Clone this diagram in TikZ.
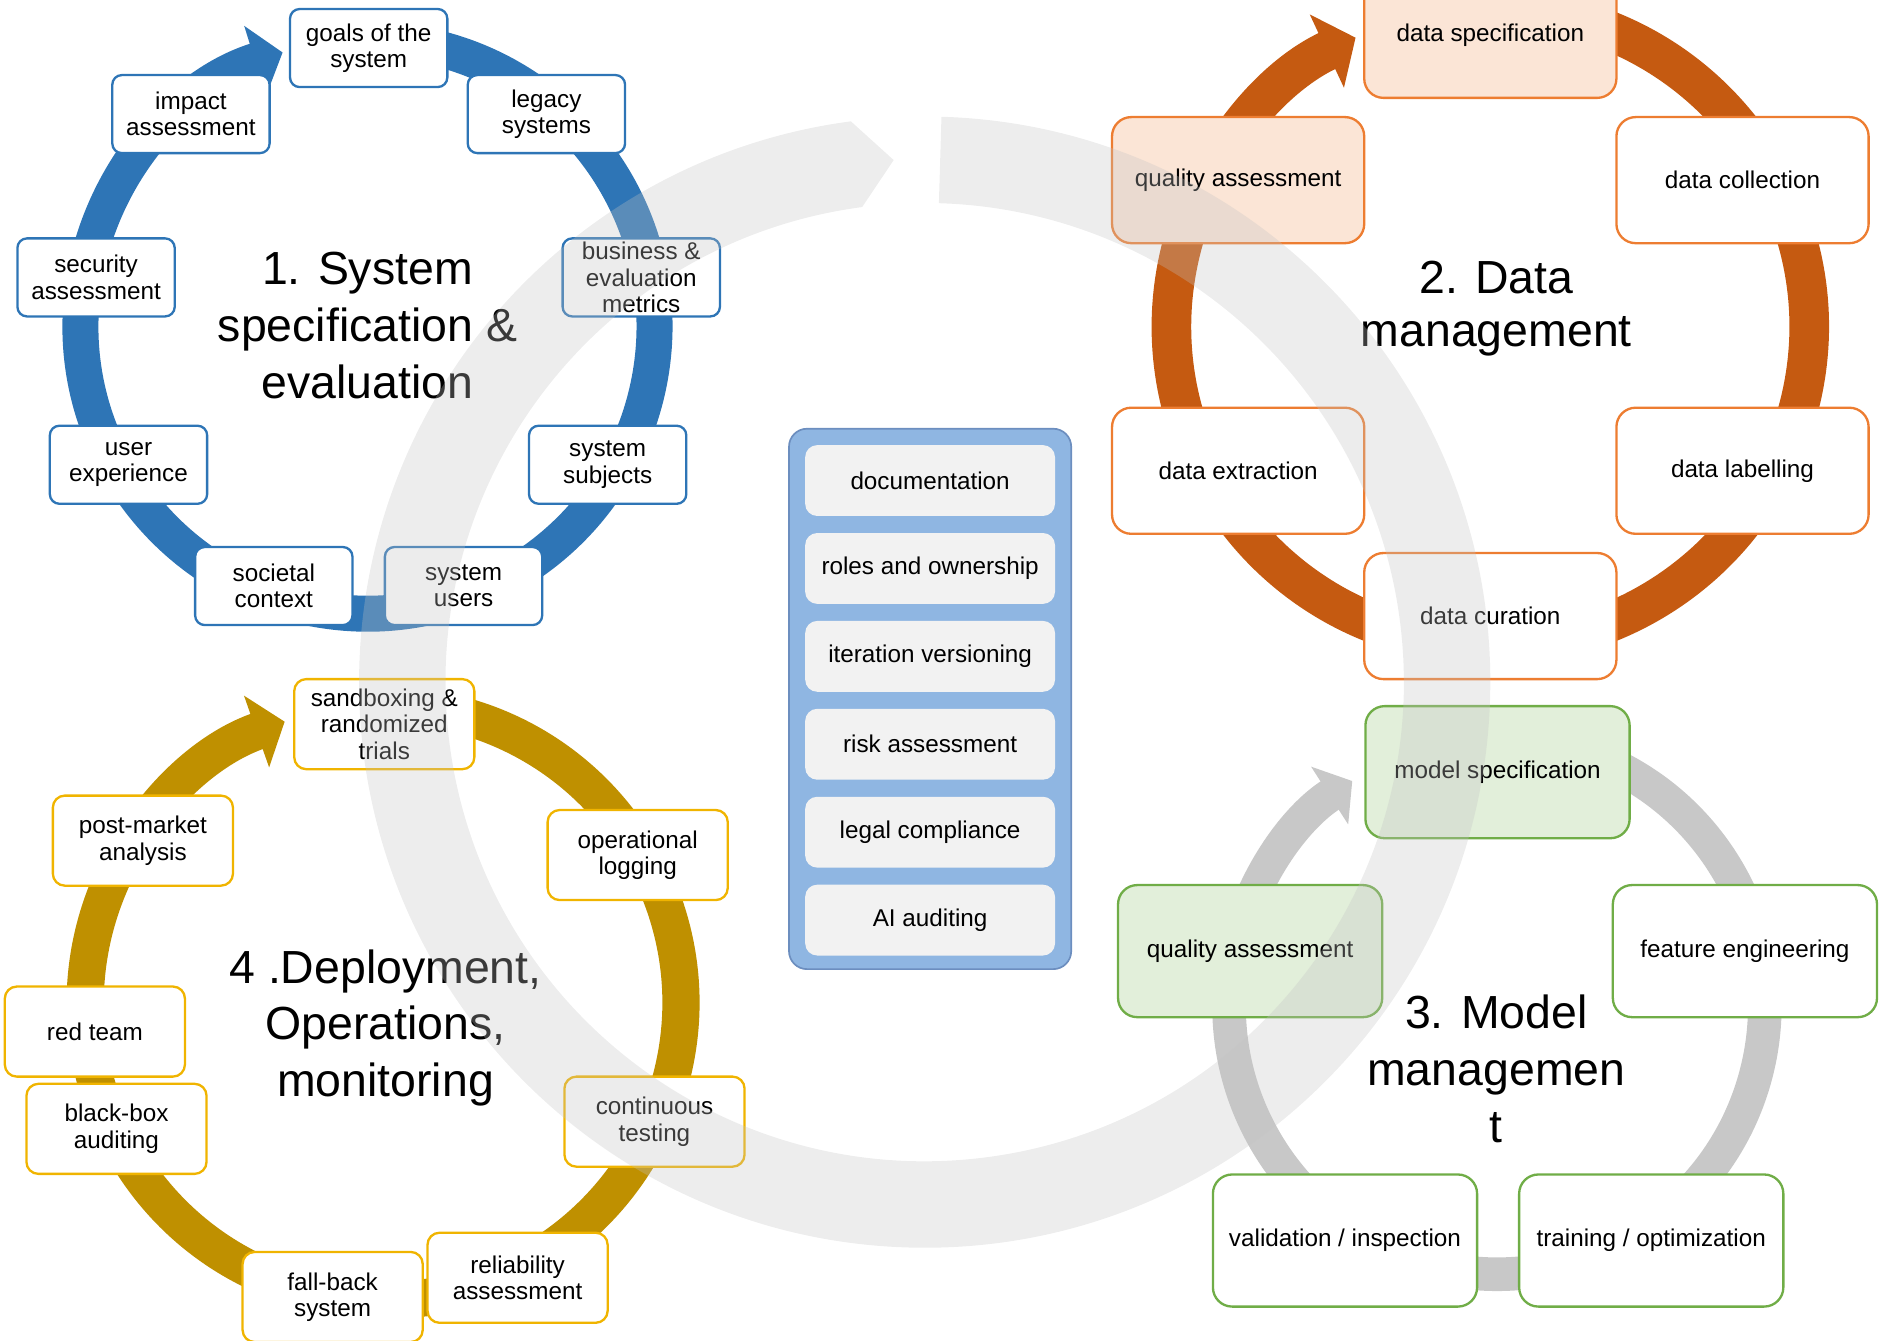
\documentclass[tikz,border=0pt]{standalone}
\usepackage{fontspec}
\setmainfont{Liberation Sans}
\usetikzlibrary{arrows.meta,positioning}
\definecolor{ringblue}{RGB}{46,117,182}
\definecolor{ringorange}{RGB}{197,90,17}
\definecolor{ringgray}{RGB}{200,200,200}
\definecolor{ringgold}{RGB}{191,144,0}
\definecolor{edgeorange}{RGB}{237,125,49}
\definecolor{edgegreen}{RGB}{112,173,71}
\definecolor{edgegold}{RGB}{240,180,0}
\definecolor{fillpeach}{RGB}{251,229,214}
\definecolor{fillgreen}{RGB}{226,239,218}
\definecolor{panelblue}{RGB}{143,182,226}
\definecolor{paneledge}{RGB}{108,142,191}
\definecolor{itemgray}{RGB}{242,242,242}
\definecolor{bandgray}{RGB}{195,195,195}

\begin{document}
\begin{tikzpicture}[
  ring/.style 2 args={line width=#1, draw=#2, -{Triangle[width=0pt 2, length=0pt 0.8]}},
  box/.style={draw, fill=white, line width=1.1pt, align=center, inner sep=0pt,
    font=\fontsize{11.5}{12.5}\selectfont},
  bluebox/.style={box, draw=ringblue, rounded corners=0.16cm, minimum width=2.62cm, minimum height=1.3cm},
  orangebox/.style={box, draw=edgeorange, rounded corners=0.32cm, minimum width=4.2cm, minimum height=2.1cm},
  greenbox/.style={box, draw=edgegreen, rounded corners=0.32cm, minimum width=4.4cm, minimum height=2.2cm},
  goldbox/.style={box, draw=edgegold, rounded corners=0.2cm, minimum width=3cm, minimum height=1.5cm},
  panel/.style={fill=panelblue, draw=paneledge, line width=0.8pt, rounded corners=0.3cm,
    minimum width=4.7cm, minimum height=9cm},
  item/.style={fill=itemgray, rounded corners=0.2cm, minimum width=4.16cm, minimum height=1.18cm,
    inner sep=0pt, font=\fontsize{11.5}{12.5}\selectfont},
  title/.style={align=center, font=\fontsize{22}{27}\selectfont},
  band/.style={fill=bandgray, fill opacity=0.3}
]
\useasboundingbox (0,0) rectangle (31.36,-22.333);

% centres of the four cycles and of the big arrow
\coordinate (c1) at (6.12,-5.44);
\coordinate (c2) at (24.82,-5.44);
\coordinate (c3) at (24.93,-16.76);
\coordinate (c4) at (6.38,-16.70);
\coordinate (cbig) at (15.40,-11.36);

% rings
\draw[ring={0.6cm}{ringblue}] ([shift={(80:4.78)}]c1) arc[start angle=80, end angle=-252.8, radius=4.78];
\draw[ring={0.66cm}{ringorange}] ([shift={(75:5.31)}]c2) arc[start angle=75, end angle=-245, radius=5.31];
\draw[ring={0.56cm}{ringgray}] ([shift={(75:4.46)}]c3) arc[start angle=75, end angle=-237.3, radius=4.46];
\draw[ring={0.62cm}{ringgold}] ([shift={(75:4.96)}]c4) arc[start angle=75, end angle=-250.7, radius=4.96];

% 1. system specification
\node[bluebox] (goals) at (6.14,-0.80) {goals of the\\system};
\node[bluebox] (legacy) at (9.10,-1.90) {legacy\\systems};
\node[bluebox] (business) at (10.68,-4.62) {business \&\\evaluation\\metrics};
\node[bluebox] (subjects) at (10.12,-7.74) {system\\subjects};
\node[bluebox] (users) at (7.72,-9.76) {system\\users};
\node[bluebox] (societal) at (4.56,-9.76) {societal\\context};
\node[bluebox] (userexp) at (2.14,-7.74) {user\\experience};
\node[bluebox] (security) at (1.60,-4.62) {security\\assessment};
\node[bluebox] (impact) at (3.18,-1.90) {impact\\assessment};
\node[title] (t1) at (6.12,-5.42) {1. System\\specification \&\\evaluation};

% 2. data management
\node[orangebox, fill=fillpeach] (dataspec) at (24.82,-0.58) {data specification};
\node[orangebox] (collection) at (29.02,-3.00) {data collection};
\node[orangebox] (labelling) at (29.02,-7.84) {data labelling};
\node[orangebox] (curation) at (24.82,-10.26) {data curation};
\node[orangebox] (extraction) at (20.62,-7.84) {data extraction};
\node[orangebox, fill=fillpeach] (dataqual) at (20.62,-3.00) {quality assessment};
\node[title] (t2) at (24.92,-5.14) {2. Data\\[-2pt]management};

% 3. model management
\node[greenbox, fill=fillgreen] (modelspec) at (24.94,-12.86) {model specification};
\node[greenbox] (feature) at (29.06,-15.84) {feature engineering};
\node[greenbox] (training) at (27.50,-20.66) {training / optimization};
\node[greenbox] (validation) at (22.40,-20.66) {validation / inspection};
\node[greenbox, fill=fillgreen] (modelqual) at (20.82,-15.84) {quality assessment};
\node[title] (t3) at (24.92,-17.80) {3. Model\\managemen\\t};

% 4. deployment
\node[goldbox] (sandbox) at (6.40,-12.06) {sandboxing \&\\randomized\\trials};
\node[goldbox] (logging) at (10.62,-14.24) {operational\\logging};
\node[goldbox] (testing) at (10.90,-18.68) {continuous\\testing};
\node[goldbox] (reliability) at (8.62,-21.28) {reliability\\assessment};
\node[goldbox] (fallback) at (5.54,-21.60) {fall-back\\system};
\node[goldbox] (blackbox) at (1.94,-18.80) {black-box\\auditing};
\node[goldbox] (redteam) at (1.58,-17.18) {red team};
\node[goldbox] (postmarket) at (2.38,-14.00) {post-market\\analysis};
\node[title] (t4) at (6.42,-17.12) {4 .Deployment,\\Operations,\\monitoring};

% shared concerns
\node[panel] (panel) at (15.49,-11.64) {};
\node[item, below=0.28cm of panel.north] (doc) {documentation};
\node[item, below=0.27cm of doc] (roles) {roles and ownership};
\node[item, below=0.27cm of roles] (iteration) {iteration versioning};
\node[item, below=0.27cm of iteration] (risk) {risk assessment};
\node[item, below=0.27cm of risk] (legal) {legal compliance};
\node[item, below=0.27cm of legal] (auditing) {AI auditing};

% big arrow over everything
\fill[band] ([shift={(88.3:9.42)}]cbig) arc[start angle=88.3, end angle=-262.5, radius=9.42]
  -- ([shift={(93.4:8.71)}]cbig) -- ([shift={(97.5:7.98)}]cbig)
  arc[start angle=97.5, end angle=448.3, radius=7.98] -- cycle;
\end{tikzpicture}
\end{document}
